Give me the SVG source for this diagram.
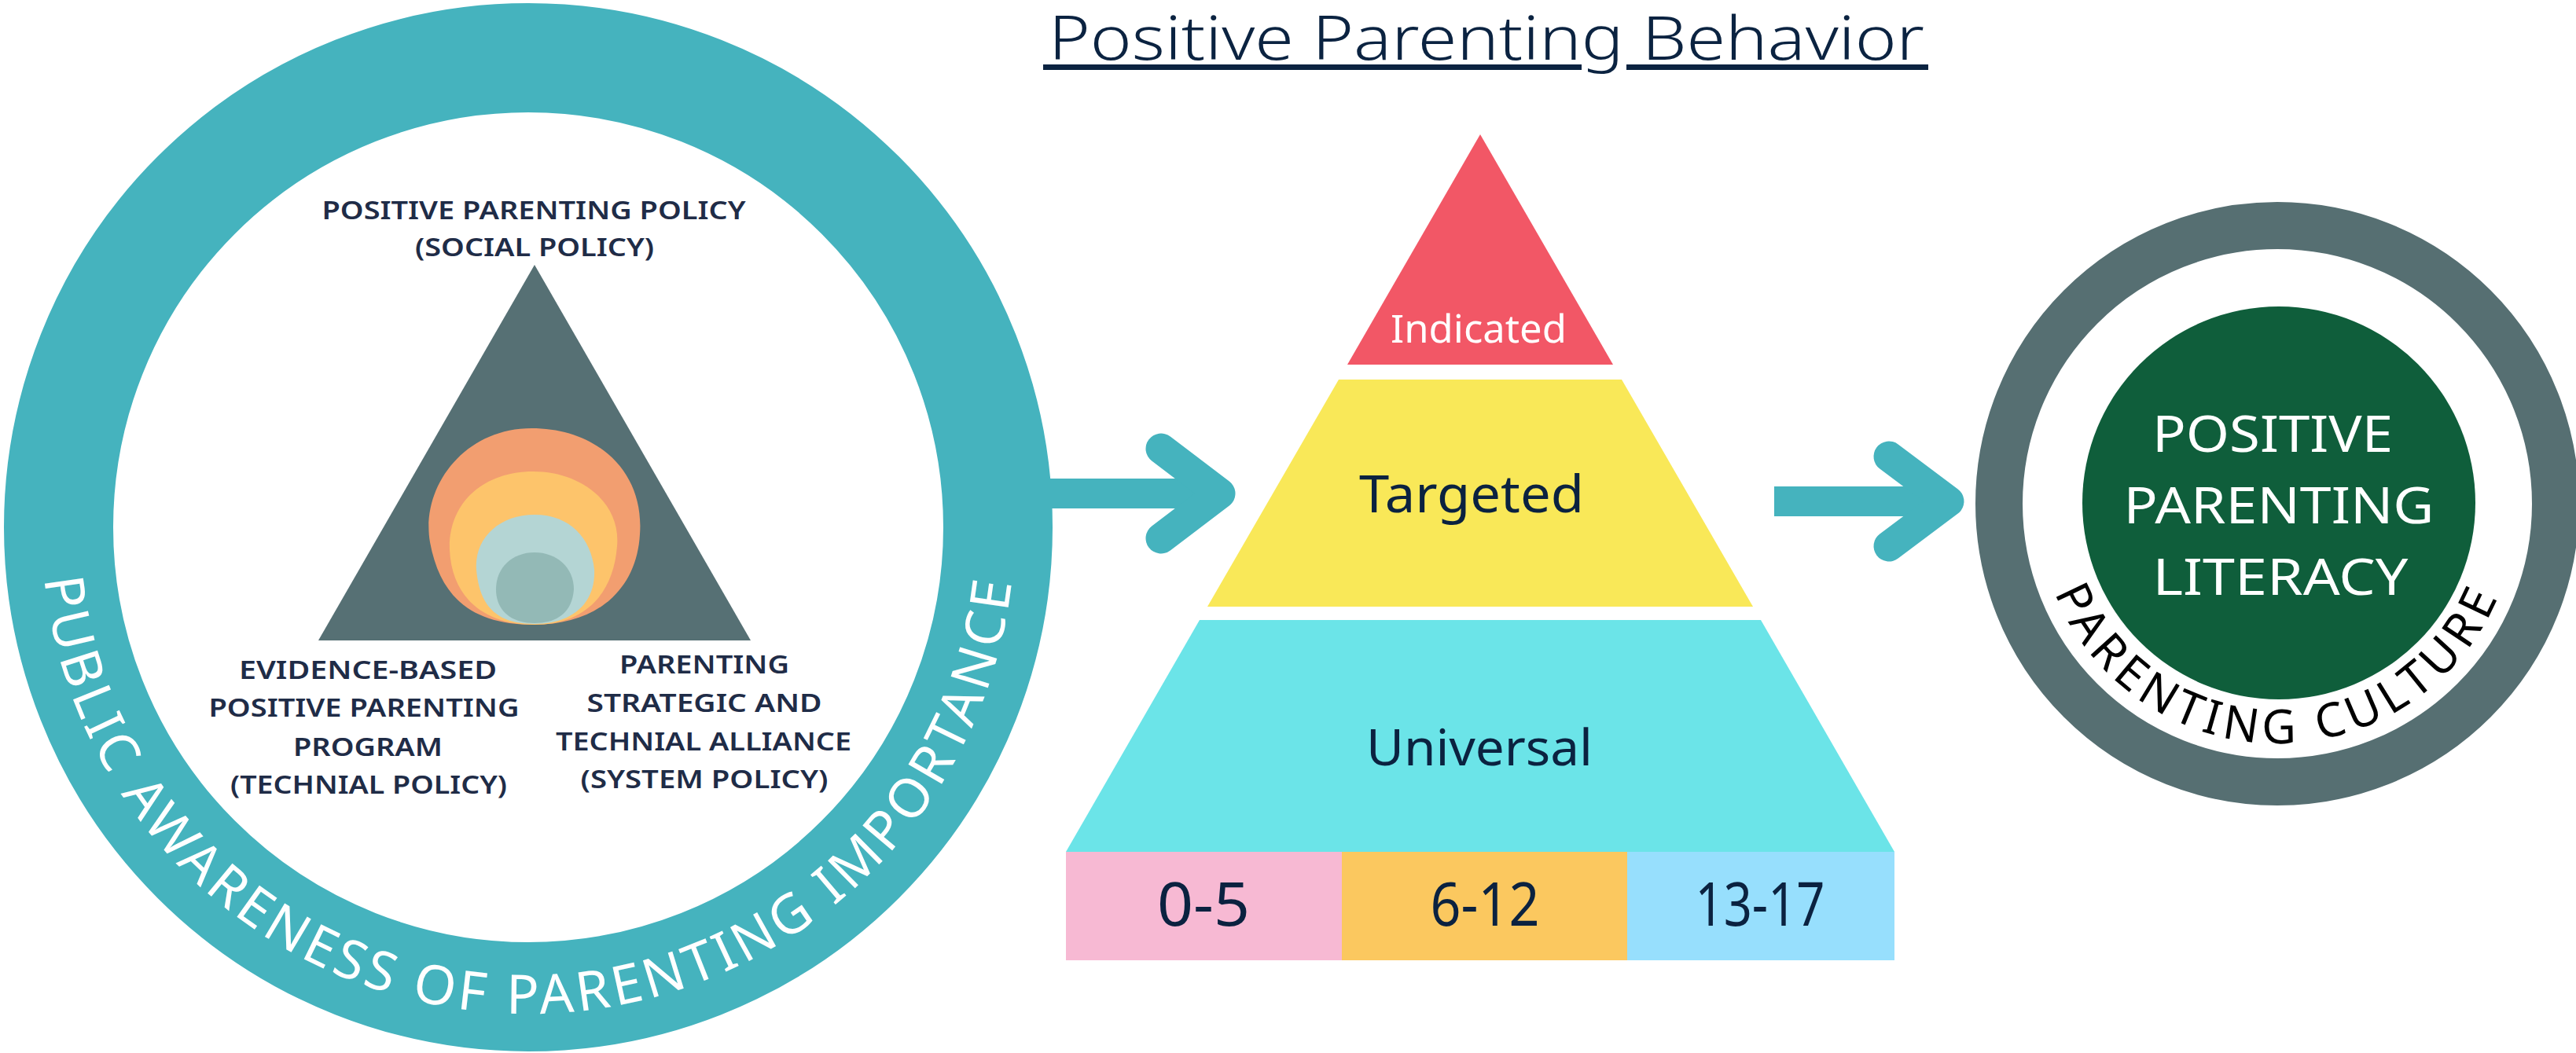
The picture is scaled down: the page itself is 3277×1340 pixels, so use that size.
<svg xmlns="http://www.w3.org/2000/svg" width="3277" height="1340" viewBox="0 0 3277 1340">
<style>
.inner{font-family:"Noto Sans","Liberation Sans",sans-serif;font-weight:600;font-size:33px;fill:#1f2c47;text-anchor:middle}
.pyr{font-family:"Noto Sans","Liberation Sans",sans-serif;font-weight:400;fill:#0b2240;text-anchor:middle}
.ring{font-family:"Noto Sans","Liberation Sans",sans-serif;font-weight:400;text-anchor:middle}
.lit{font-family:"Noto Sans","Liberation Sans",sans-serif;font-weight:400;font-size:63px;fill:#ffffff;text-anchor:middle}
.teal{fill:#45b3be}
.chev{fill:none;stroke:#45b3be;stroke-width:39;stroke-linecap:round;stroke-linejoin:round}
</style>
<defs>
<path id="bigArc" d="M 53,671 A 619 619 0 0 0 1291,671"/>
<path id="smallArc" d="M 2592,641 A 305 305 0 0 0 3202,641"/>
</defs>
<rect width="3277" height="1340" fill="#ffffff"/>

<g id="title">
<text x="1334" y="76" font-family="Noto Sans, Liberation Sans, sans-serif" font-weight="300" font-size="77" fill="#0b2341" textLength="1114" lengthAdjust="spacingAndGlyphs">Positive Parenting Behavior</text>
<rect x="1327" y="82" width="685" height="7" fill="#0b2341"/>
<rect x="2069" y="82" width="384" height="7" fill="#0b2341"/>
</g>

<g id="public-awareness-ring">
<circle cx="672" cy="671" r="597.5" fill="#ffffff" stroke="#45b3be" stroke-width="139"/>
<text class="ring" font-size="69" fill="#ffffff" letter-spacing="5"><textPath href="#bigArc" startOffset="50%">PUBLIC AWARENESS OF PARENTING IMPORTANCE</textPath></text>
</g>

<g id="policy-triangle">
<polygon points="680,337 405,815 955,815" fill="#567074"/>
<path d="M 679,795 C 600,795 560,760 547,690 C 535,620 590,545 676,545 C 760,545 820,600 814,680 C 810,750 760,795 679,795 Z" fill="#f29e70"/>
<path d="M 680,795 C 615,795 575,760 572,700 C 570,640 615,600 678,600 C 740,600 790,640 785,695 C 780,760 740,795 680,795 Z" fill="#fdc46b"/>
<path d="M 680,794 C 630,794 610,770 606,725 C 603,685 635,655 680,655 C 725,655 752,685 756,725 C 758,770 725,794 680,794 Z" fill="#b4d5d4"/>
<path d="M 680,793 C 648,793 631,775 631,750 C 631,722 652,703 680,703 C 708,703 730,722 730,750 C 728,778 710,793 680,793 Z" fill="#93b9b6"/>
</g>

<g id="social-policy-label">
<text class="inner" x="679" y="279" textLength="539" lengthAdjust="spacingAndGlyphs">POSITIVE PARENTING POLICY</text>
<text class="inner" x="680" y="326" textLength="304" lengthAdjust="spacingAndGlyphs">(SOCIAL POLICY)</text>
</g>

<g id="technical-policy-label">
<text class="inner" x="468" y="864" textLength="328" lengthAdjust="spacingAndGlyphs">EVIDENCE-BASED</text>
<text class="inner" x="463" y="912" textLength="395" lengthAdjust="spacingAndGlyphs">POSITIVE PARENTING</text>
<text class="inner" x="468" y="962" textLength="190" lengthAdjust="spacingAndGlyphs">PROGRAM</text>
<text class="inner" x="469" y="1010" textLength="352" lengthAdjust="spacingAndGlyphs">(TECHNIAL POLICY)</text>
</g>

<g id="system-policy-label">
<text class="inner" x="896" y="857" textLength="216" lengthAdjust="spacingAndGlyphs">PARENTING</text>
<text class="inner" x="896" y="906" textLength="299" lengthAdjust="spacingAndGlyphs">STRATEGIC AND</text>
<text class="inner" x="895" y="955" textLength="376" lengthAdjust="spacingAndGlyphs">TECHNIAL ALLIANCE</text>
<text class="inner" x="896" y="1003" textLength="315" lengthAdjust="spacingAndGlyphs">(SYSTEM POLICY)</text>
</g>

<g id="pyramid">
<g id="indicated">
<polygon points="1883,171 1714,464 2052,464" fill="#f25766"/>
<text class="pyr" x="1881" y="436" font-size="50" style="fill:#ffffff" textLength="224" lengthAdjust="spacingAndGlyphs">Indicated</text>
</g>
<g id="targeted">
<polygon points="1703,483 2063,483 2230,772 1536,772" fill="#f9e858"/>
<text class="pyr" x="1872" y="652" font-size="66" textLength="286" lengthAdjust="spacingAndGlyphs">Targeted</text>
</g>
<g id="universal">
<polygon points="1526,789 2240,789 2410,1084 1356,1084" fill="#6be4e8"/>
<text class="pyr" x="1882" y="974" font-size="64" textLength="288" lengthAdjust="spacingAndGlyphs">Universal</text>
</g>
<g id="age-0-5">
<rect x="1356" y="1084" width="351" height="138" fill="#f7b9d3"/>
<text class="pyr" x="1531" y="1178" font-size="76" textLength="118" lengthAdjust="spacingAndGlyphs">0-5</text>
</g>
<g id="age-6-12">
<rect x="1707" y="1084" width="363" height="138" fill="#fbc85f"/>
<text class="pyr" x="1889" y="1178" font-size="76" textLength="139" lengthAdjust="spacingAndGlyphs">6-12</text>
</g>
<g id="age-13-17">
<rect x="2070" y="1084" width="340" height="138" fill="#97dffd"/>
<text class="pyr" x="2239" y="1178" font-size="76" textLength="165" lengthAdjust="spacingAndGlyphs">13-17</text>
</g>
</g>

<g id="parenting-culture">
<circle cx="2897" cy="641" r="354" fill="#ffffff" stroke="#566f72" stroke-width="60"/>
<circle cx="2899" cy="640" r="250" fill="#0f5e3b"/>
<text class="ring" font-size="60" font-weight="500" fill="#000000" letter-spacing="7"><textPath href="#smallArc" startOffset="50%">PARENTING CULTURE</textPath></text>
<g id="literacy">
<text class="lit" x="2891" y="575" textLength="306" lengthAdjust="spacingAndGlyphs">POSITIVE</text>
<text class="lit" x="2899" y="666" textLength="395" lengthAdjust="spacingAndGlyphs">PARENTING</text>
<text class="lit" x="2901" y="757" textLength="325" lengthAdjust="spacingAndGlyphs">LITERACY</text>
</g>
</g>

<g id="connectors">
<g id="arrow-ring-to-pyramid">
<rect class="teal" x="1336" y="609" width="196" height="38"/>
<polyline class="chev" points="1477,571 1552,628 1477,685"/>
</g>
<g id="arrow-pyramid-to-culture">
<rect class="teal" x="2257" y="619" width="205" height="38"/>
<polyline class="chev" points="2403,581 2479,638 2403,695"/>
</g>
</g>
</svg>
